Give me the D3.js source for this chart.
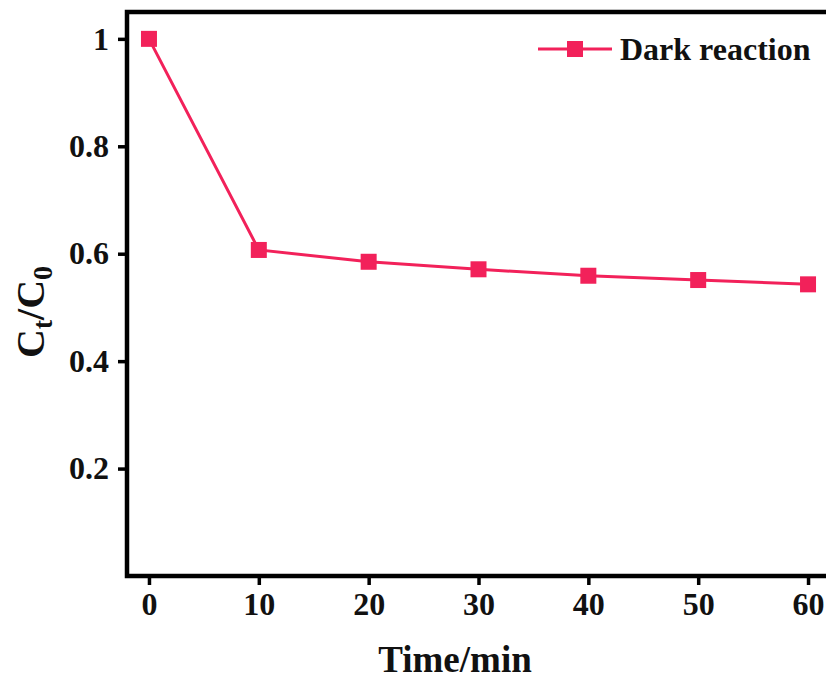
<!DOCTYPE html>
<html><head><meta charset="utf-8">
<script src="https://cdn.jsdelivr.net/npm/d3@7/dist/d3.min.js"></script>
<style>
html,body{margin:0;padding:0;background:#fff;overflow:hidden}
svg{display:block}
text{font-family:"Liberation Serif","Times New Roman",serif;font-weight:bold;fill:#111}
</style></head><body>
<script>
const times = [0, 10, 20, 30, 40, 50, 60];
const ratio = [1.0, 0.607, 0.585, 0.571, 0.559, 0.551, 0.543];
const xTicks = [0, 10, 20, 30, 40, 50, 60];
const yTicks = [0.2, 0.4, 0.6, 0.8, 1];
const seriesName = "Dark reaction";
const color = "#F2215A";

const W = 826, H = 680;
const svg = d3.select("body").append("svg").attr("width", W).attr("height", H);

const x = d3.scaleLinear().domain([-2, 62]).range([127, 830]);
const y = d3.scaleLinear().domain([0, 1.05]).range([576, 12]);

// frame
svg.append("rect").attr("x", x(-2)).attr("y", y(1.05))
  .attr("width", x(62) - x(-2)).attr("height", y(0) - y(1.05))
  .attr("fill", "none").attr("stroke", "#000").attr("stroke-width", 4.5);

const xAxis = svg.append("g").attr("transform", `translate(0,${y(0)})`)
  .call(d3.axisBottom(x).tickValues(xTicks).tickFormat(d3.format("d")).tickSize(9).tickPadding(7));
xAxis.select(".domain").remove();
xAxis.selectAll("line").attr("stroke", "#000").attr("stroke-width", 3.5).attr("y1", 2);
xAxis.selectAll("text").style("font-size", "32px").style("font-family", "Liberation Serif").style("font-weight", "bold").attr("fill", "#000");

const yAxis = svg.append("g").attr("transform", `translate(${x(-2)},0)`)
  .call(d3.axisLeft(y).tickValues(yTicks).tickFormat(d => d === 1 ? "1" : d3.format(".1f")(d)).tickSize(9).tickPadding(9));
yAxis.select(".domain").remove();
yAxis.selectAll("line").attr("stroke", "#000").attr("stroke-width", 3.5);
yAxis.selectAll("text").style("font-size", "32px").style("font-family", "Liberation Serif").style("font-weight", "bold").attr("fill", "#000");

const data = times.map((t, i) => ({t, v: ratio[i]}));
svg.append("path").datum(data)
  .attr("d", d3.line().x(d => x(d.t)).y(d => y(d.v)))
  .attr("fill", "none").attr("stroke", color).attr("stroke-width", 3);
const ms = 16;
svg.selectAll("rect.m").data(data).enter().append("rect").attr("class", "m")
  .attr("x", d => x(d.t) - ms / 2).attr("y", d => y(d.v) - ms / 2)
  .attr("width", ms).attr("height", ms).attr("fill", color);

// axis titles
svg.append("text").attr("x", 455).attr("y", 672).attr("text-anchor", "middle")
  .style("font-size", "37px").text("Time/min");
const yl = svg.append("text").attr("transform", `translate(44,${312}) rotate(-90)`)
  .attr("text-anchor", "middle").style("font-size", "40px");
yl.append("tspan").text("C");
yl.append("tspan").style("font-size", "28px").attr("dy", 8).text("t");
yl.append("tspan").attr("dy", -8).text("/C");
yl.append("tspan").style("font-size", "28px").attr("dy", 8).text("0");

// legend
const lg = svg.append("g");
lg.append("line").attr("x1", 538).attr("x2", 612).attr("y1", 49).attr("y2", 49)
  .attr("stroke", color).attr("stroke-width", 3);
lg.append("rect").attr("x", 575 - ms / 2).attr("y", 49 - ms / 2).attr("width", ms).attr("height", ms).attr("fill", color);
lg.append("text").attr("x", 620).attr("y", 60).style("font-size", "32px").text(seriesName);
</script>
</body></html>
